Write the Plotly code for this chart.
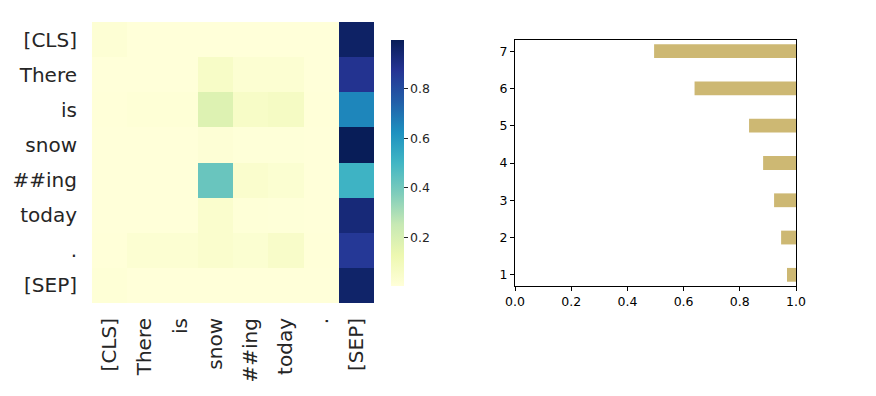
import plotly.graph_objects as go

# -- datos
tokens = ['[CLS]', 'There', 'is', 'snow', '##ing', 'today', '.', '[SEP]']

# matriz de atencion (fila = token origen, columna = token destino)
atencion = [
    [0.020, 0.005, 0.005, 0.005, 0.005, 0.005, 0.004, 0.970],
    [0.004, 0.004, 0.004, 0.060, 0.025, 0.025, 0.004, 0.880],
    [0.006, 0.012, 0.012, 0.180, 0.060, 0.070, 0.006, 0.650],
    [0.004, 0.004, 0.004, 0.015, 0.008, 0.008, 0.004, 0.996],
    [0.004, 0.004, 0.004, 0.420, 0.040, 0.030, 0.004, 0.510],
    [0.004, 0.004, 0.004, 0.040, 0.010, 0.008, 0.004, 0.930],
    [0.006, 0.025, 0.025, 0.040, 0.030, 0.055, 0.006, 0.860],
    [0.012, 0.005, 0.005, 0.005, 0.005, 0.005, 0.005, 0.960],
]

capas = [1, 2, 3, 4, 5, 6, 7]
inicio_barra = [0.968, 0.947, 0.922, 0.883, 0.833, 0.639, 0.495]

ylgnbu = [[0.0, '#ffffd9'], [0.125, '#edf8b1'], [0.25, '#c7e9b4'], [0.375, '#7fcdbb'],
          [0.5, '#41b6c4'], [0.625, '#1d91c0'], [0.75, '#225ea8'], [0.875, '#253494'],
          [1.0, '#081d58']]

W, H = 876, 396
OFF = 8  # margen por defecto del body en la pagina


def px_x(a, b):
    return [(a - OFF) / W, (b - OFF) / W]


def px_y(top, bottom):
    return [1 - (bottom - OFF) / H, 1 - (top - OFF) / H]


fig = go.Figure()

# mapa de calor
fig.add_trace(go.Heatmap(z=atencion, x=tokens, y=tokens, colorscale=ylgnbu,
                         xaxis='x', yaxis='y', hoverongaps=False,
                         colorbar=dict(x=(391 - OFF) / W, xanchor='left', thickness=13,
                                       len=246 / H, lenmode='fraction', xpad=0, ypad=0,
                                       y=1 - (163 - OFF) / H, yanchor='middle', outlinewidth=0,
                                       ticks='outside', ticklen=4, tickwidth=1.2,
                                       tickcolor='#262626',
                                       tickvals=[0.2, 0.4, 0.6, 0.8],
                                       tickfont=dict(size=12.5, color='#262626'))))

# barras horizontales
fig.add_trace(go.Bar(y=capas, x=[1 - v for v in inicio_barra], base=inicio_barra,
                     orientation='h', width=0.37, marker_color='#cdb873',
                     marker_line_width=0, xaxis='x2', yaxis='y2', showlegend=False))

fuente = 'DejaVu Sans'
fig.update_layout(
    width=W, height=H, margin=dict(l=0, r=0, t=0, b=0),
    paper_bgcolor='white', plot_bgcolor='white',
    font=dict(family=fuente, color='#262626'),
    xaxis=dict(domain=px_x(92, 374), anchor='y', showgrid=False, zeroline=False,
               tickangle=-90, tickfont=dict(size=20), ticks='outside', ticklen=6,
               tickcolor='rgba(0,0,0,0)', automargin=False),
    yaxis=dict(domain=px_y(22, 303), anchor='x', showgrid=False, zeroline=False,
               autorange='reversed', tickfont=dict(size=20), ticks='outside', ticklen=10,
               tickcolor='rgba(0,0,0,0)', automargin=False),
    xaxis2=dict(domain=px_x(515, 796), anchor='y2', range=[0, 1], showgrid=False,
                zeroline=False, showline=True, linecolor='black', linewidth=1, mirror=True,
                ticks='outside', ticklen=4, tickcolor='black', dtick=0.2, tickformat='.1f',
                tickfont=dict(size=12.5, color='black'), automargin=False),
    yaxis2=dict(domain=px_y(40, 286), anchor='x2', range=[0.7, 7.3], showgrid=False,
                zeroline=False, showline=True, linecolor='black', linewidth=1, mirror=True,
                ticks='outside', ticklen=4, tickcolor='black', dtick=1,
                tickfont=dict(size=12.5, color='black'), automargin=False),
)

fig.write_html('out.html')
